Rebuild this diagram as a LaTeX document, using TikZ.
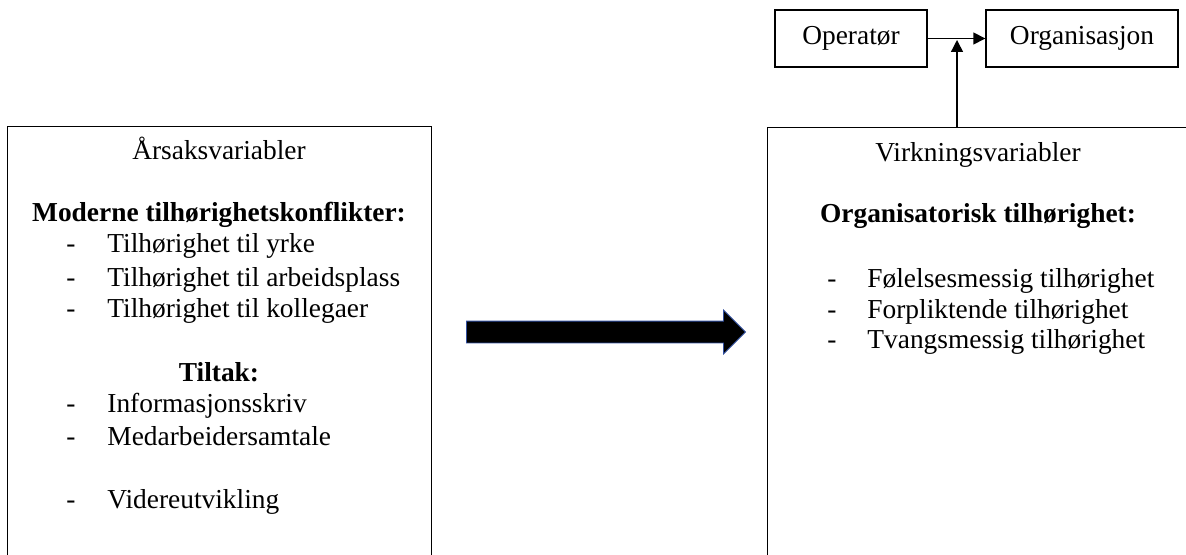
\documentclass[tikz,border=0pt]{standalone}
\usepackage{fontspec}
\setmainfont{Liberation Serif}
\usetikzlibrary{arrows.meta,shapes.arrows}

\begin{document}
\begin{tikzpicture}[x=0.5pt,y=-0.5pt,
  every node/.style={font=\fontsize{13.7pt}{16pt}\selectfont},
  box/.style={draw,line width=0.7pt,inner sep=0pt},
  varbox/.style={box,anchor=north west,minimum height=260pt},
  smallbox/.style={box,minimum height=28.5pt},
  title/.style={anchor=base,inner sep=0pt},
  head/.style={title,font=\fontsize{13.7pt}{16pt}\selectfont\bfseries},
  pt/.style={anchor=base west,inner sep=0pt},
  link/.style={line width=0.7pt,-{Triangle[length=6pt,width=6pt]}}]
  \useasboundingbox (0,0) rectangle (1186,555);
  \clip (0,0) rectangle (1186,555);

  % variable boxes (run off the page)
  \node[varbox,minimum width=212pt] (aarsak) at (7,126) {};
  \node[varbox,minimum width=240pt] (virk) at (767,127) {};

  % top boxes
  \node[smallbox,minimum width=76pt] (op) at (851,38.5) {Operatør};
  \node[smallbox,minimum width=96pt] (org) at (1082,38.5) {Organisasjon};
  \coordinate (mid) at (957,40);
  \coordinate (vt) at (957,127);
  \draw[link] (op) -- (org);
  \draw[link] (vt) -- (mid);

  % left box text
  \node[title] (t1) at (219,160) {Årsaksvariabler};
  \node[head] (h1) at (219,222) {Moderne tilhørighetskonflikter:};
  \foreach \y/\t [count=\i] in {253/Tilhørighet til yrke,
      286/Tilhørighet til arbeidsplass,317/Tilhørighet til kollegaer,
      412/Informasjonsskriv,445/Medarbeidersamtale,508/Videreutvikling} {
    \node[pt] at (66,\y) {-};
    \node[pt] (a\i) at (107,\y) {\t};
  }
  \node[head] (h2) at (219,381) {Tiltak:};

  % right box text
  \node[title] (t2) at (978,162) {Virkningsvariabler};
  \node[head] (h3) at (978,223) {Organisatorisk tilhørighet:};
  \foreach \y/\t [count=\i] in {287/Følelsesmessig tilhørighet,
      318/Forpliktende tilhørighet,348/Tvangsmessig tilhørighet} {
    \node[pt] at (827,\y) {-};
    \node[pt] (v\i) at (867,\y) {\t};
  }

  % big arrow
  \node[single arrow,fill=black,draw={rgb,255:red,50;green,80;blue,160},
    line width=0.4pt,inner xsep=0pt,inner ysep=5.25pt,
    minimum height=139.5pt,minimum width=21.5pt,single arrow head extend=5.5pt,
    single arrow tip angle=90] (pil) at (600.5,332) {};
\end{tikzpicture}
\end{document}
